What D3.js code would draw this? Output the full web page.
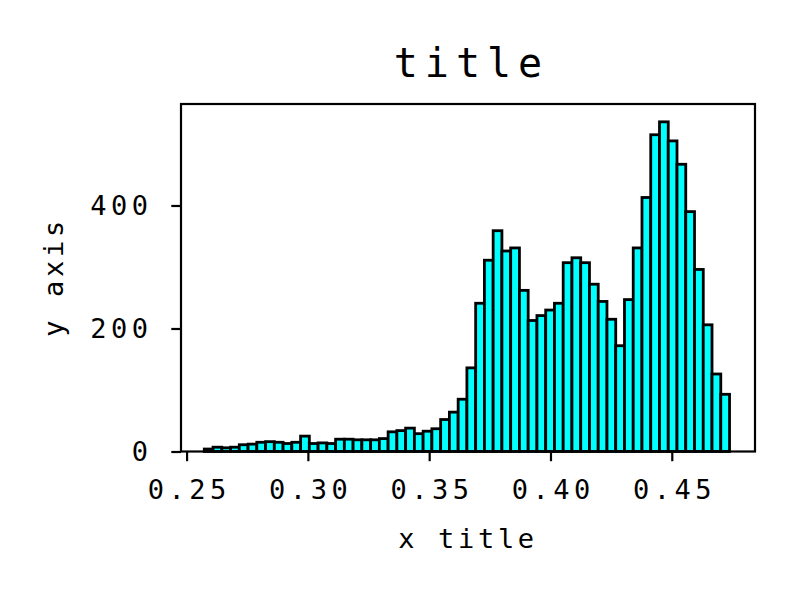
<!DOCTYPE html>
<html>
<head>
<meta charset="utf-8">
<script src="https://cdn.jsdelivr.net/npm/d3@7"></script>
<style>
  html, body { margin: 0; padding: 0; background: #fff; }
  svg { display: block; }
  text { font-family: "DejaVu Sans Mono", monospace; fill: #000; }
</style>
</head>
<body>
<svg id="chart" width="799" height="600"></svg>
<script>
// ---- data ----
const counts = [4, 7, 6, 7, 11, 12, 15, 16, 15, 13,
                15, 25, 13, 14, 13, 20, 20, 19, 19, 19,
                21, 32, 34, 38, 29, 33, 37, 52, 64, 85,
                136, 241, 311, 359, 326, 331, 262, 213, 221, 230,
                241, 307, 315, 307, 272, 244, 215, 172, 247, 331,
                413, 515, 536, 505, 467, 390, 296, 206, 126, 93];
const binStart = 0.2573;
const binEnd = 0.4738;
const xTicks = [0.25, 0.30, 0.35, 0.40, 0.45];
const yTicks = [0, 200, 400];
const titleText = "title";
const xLabel = "x title";
const yLabel = "y axis";

// ---- layout ----
const L = 181, R = 755, T = 104, B = 451.5;
const svg = d3.select("#chart");

const x = d3.scaleLinear().domain([0.2477, 0.4843]).range([L, R]);
const y = d3.scaleLinear().domain([0, 565]).range([B, T]);

const nb = counts.length;
const edges = d3.range(nb + 1).map(i => binStart + i * (binEnd - binStart) / nb);
const bins = counts.map((c, i) => ({x0: edges[i], x1: edges[i + 1], c}));

svg.append("g").selectAll("rect").data(bins).join("rect")
  .attr("x", d => x(d.x0))
  .attr("width", d => x(d.x1) - x(d.x0))
  .attr("y", d => y(d.c))
  .attr("height", d => y(0) - y(d.c))
  .attr("fill", "#00ffff")
  .attr("stroke", "#000")
  .attr("stroke-width", 2.8);

// frame
svg.append("rect")
  .attr("x", L).attr("y", T).attr("width", R - L).attr("height", B - T)
  .attr("fill", "none").attr("stroke", "#000").attr("stroke-width", 2.2);

const tickFont = 27;
const ls = 4.5;

const gx = svg.append("g").attr("transform", `translate(0,${B})`)
  .call(d3.axisBottom(x).tickValues(xTicks).tickFormat(d3.format(".2f"))
        .tickSize(9.7).tickPadding(19));
gx.select(".domain").remove();
gx.selectAll(".tick line").attr("stroke", "#000").attr("stroke-width", 2.2);
gx.selectAll(".tick text")
  .attr("font-size", tickFont).attr("font-family", "DejaVu Sans Mono")
  .attr("letter-spacing", ls).attr("dx", ls / 2);

const gy = svg.append("g").attr("transform", `translate(${L},0)`)
  .call(d3.axisLeft(y).tickValues(yTicks).tickFormat(d3.format("d"))
        .tickSize(9.7).tickPadding(23.3 - ls));
gy.select(".domain").remove();
gy.selectAll(".tick line").attr("stroke", "#000").attr("stroke-width", 2.2);
gy.selectAll(".tick text")
  .attr("font-size", tickFont).attr("font-family", "DejaVu Sans Mono")
  .attr("letter-spacing", ls);

// title
svg.append("text")
  .attr("x", 468 + 3.5).attr("y", 77)
  .attr("text-anchor", "middle")
  .attr("font-size", 40).attr("letter-spacing", 7)
  .text(titleText);

// x label
svg.append("text")
  .attr("x", 466 + 2).attr("y", 548)
  .attr("text-anchor", "middle")
  .attr("font-size", 27).attr("letter-spacing", 3.7)
  .text(xLabel);

// y label
svg.append("text")
  .attr("transform", `translate(63,${279 - 2}) rotate(-90)`)
  .attr("text-anchor", "middle")
  .attr("font-size", 27).attr("letter-spacing", 3.7)
  .text(yLabel);
</script>
</body>
</html>
